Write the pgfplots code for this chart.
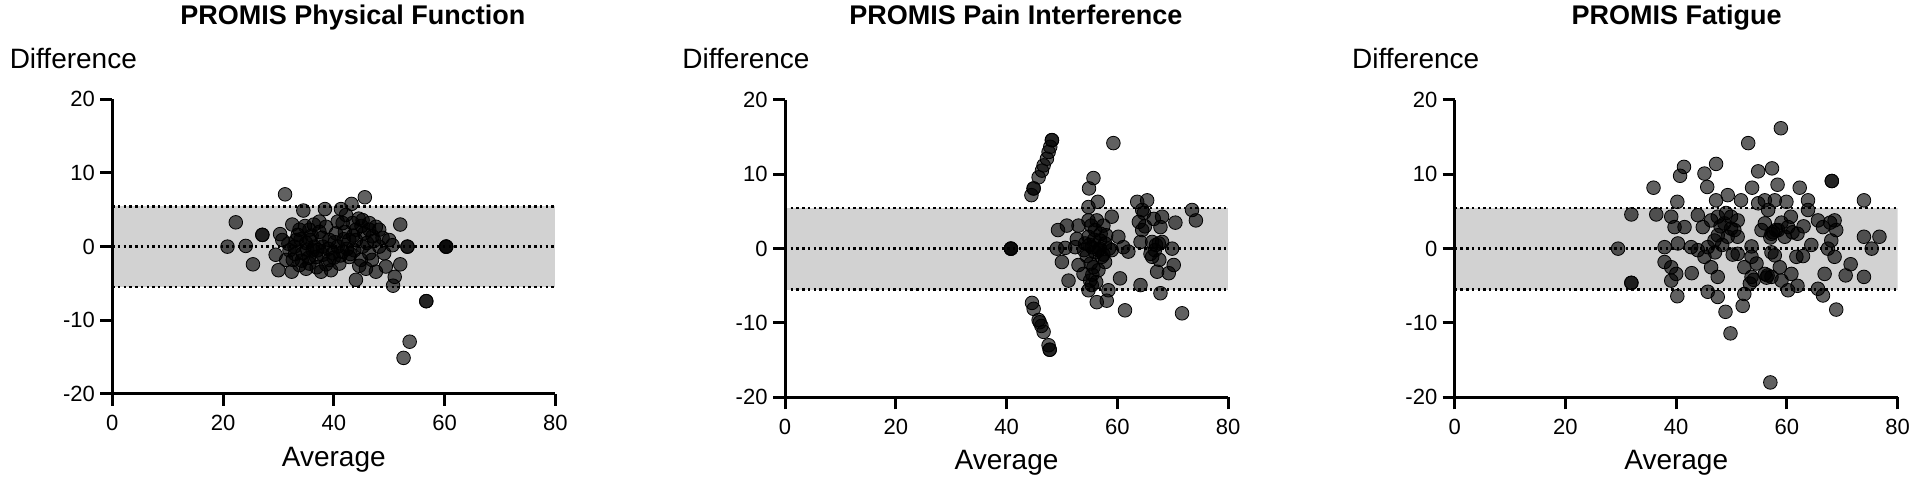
\documentclass[border=0pt]{standalone}
\usepackage{pgfplots}
\pgfplotsset{compat=1.18}
\usepackage{fontspec}
\setmainfont{Liberation Sans}
\definecolor{band}{RGB}{210,210,210}

\pgfplotsset{
  ba/.style={
    scale only axis, width=221.5pt,
    xmin=0, xmax=80, ymin=-20, ymax=20,
    axis lines=left, axis line style={-, line width=1.5pt},
    axis on top,
    xtick={0,20,40,60,80}, ytick={-20,-10,0,10,20},
    tick align=outside, major tick length=6pt,
    tick style={line width=1.5pt, black},
    /pgf/number format/assume math mode=true,
    ticklabel style={font=\fontsize{11}{13}\selectfont},
    yticklabel style={xshift=0.8pt},
    xticklabel style={yshift=-1.2pt},
    every axis title/.style={anchor=base, yshift=37.6pt, font=\fontsize{13.5}{16}\selectfont\bfseries},
    every axis x label/.style={at={(axis description cs:0.5,0)}, anchor=base, yshift=-36.3pt, font=\fontsize{14}{16}\selectfont},
    every axis y label/.style={at={(axis description cs:-0.088,1)}, anchor=base, yshift=15.5pt, font=\fontsize{14}{16}\selectfont},
    xlabel={Average}, ylabel={Difference},
  },
  pts/.style={only marks, mark=*, mark size=3.4pt, mark options={draw=none, fill=black, fill opacity=0.62}},
  dots/.style={black, line width=1.2pt, dash pattern=on 1.2pt off 1.65pt},
}

\newcommand{\bandlines}{%
  \addplot[fill=band, draw=none] coordinates {(0,-5.5) (80,-5.5) (80,5.45) (0,5.45)} -- cycle;
  \addplot[dots] coordinates {(0,5.45) (80,5.45)};
  \addplot[dots] coordinates {(0,0) (80,0)};
  \addplot[dots] coordinates {(0,-5.5) (80,-5.5)};
}

\begin{document}
\begin{tikzpicture}
\useasboundingbox (0,0) rectangle (960pt,242.5pt);

% ---------- Physical Function ----------
\begin{axis}[ba, at={(56.15pt,45.5pt)}, anchor=south west, height=147.35pt,
  title={PROMIS Physical Function}, title style={at={(axis description cs:0.543,1)}}]
\bandlines
\addplot[pts] table {
x y
20.8 0.0
22.3 3.3
24.1 0.1
25.4 -2.4
27.1 1.6
27.1 1.6
29.5 -1.1
30.0 -3.2
30.3 1.7
30.7 0.9
31.2 7.1
31.4 -1.8
31.8 0.4
32.0 -0.5
32.4 -3.4
32.5 3.0
32.6 -1.8
32.9 0.0
33.0 -1.0
33.2 0.9
33.5 1.6
33.8 2.3
33.8 -2.5
34.0 1.0
34.2 -1.9
34.4 -0.9
34.5 4.9
34.8 2.8
35.0 0.5
35.0 -3.0
35.2 -0.4
35.5 -1.5
35.6 2.3
35.6 -2.3
35.7 0.9
36.0 1.5
36.2 -0.5
36.4 3.0
36.5 0.0
36.8 -1.4
36.9 -2.8
37.0 -0.5
37.4 3.4
37.4 2.0
37.7 -3.4
37.9 1.2
38.0 0.0
38.0 -1.1
38.4 5.1
38.6 2.7
38.6 -2.4
39.0 -0.3
39.2 0.9
39.2 -1.8
39.5 -3.2
39.8 -0.9
40.0 -1.5
40.2 0.6
40.4 1.8
40.7 3.4
40.7 0.0
41.0 -2.3
41.2 -1.2
41.3 5.1
41.6 3.2
41.6 -0.7
41.8 1.0
42.0 2.0
42.2 4.3
42.4 -0.3
42.8 0.9
42.8 -1.4
43.0 -1.0
43.2 5.8
43.4 3.2
43.5 1.5
43.7 -0.5
44.0 2.3
44.0 0.9
44.0 -4.5
44.5 3.8
44.6 -2.6
44.9 -1.8
45.0 2.8
45.2 3.6
45.2 0.0
45.5 1.8
45.6 6.7
45.8 -3.0
46.0 0.5
46.4 3.2
46.4 2.3
46.4 -0.9
46.9 -1.8
47.0 1.4
47.3 0.8
47.6 2.7
47.6 -3.4
48.2 2.3
48.2 0.0
48.8 1.2
49.1 -0.9
49.4 -2.7
50.0 0.9
50.6 0.2
50.7 -5.3
51.0 -4.1
52.0 3.0
52.0 -2.4
52.6 -15.1
53.3 0.0
53.3 0.0
53.7 -12.9
56.7 -7.4
56.7 -7.4
60.3 0.0
60.3 0.0
60.3 0.0
};
\end{axis}

% ---------- Pain Interference ----------
\begin{axis}[ba, at={(392.5pt,43.85pt)}, anchor=south west, height=148.65pt,
  title={PROMIS Pain Interference}, title style={at={(axis description cs:0.521,1)}}]
\bandlines
\addplot[pts] table {
x y
44.5 7.2
44.9 8.1
44.9 8.1
45.8 9.6
46.4 10.5
46.7 11.2
47.3 12.1
47.6 13.0
47.9 13.7
48.2 14.6
48.2 14.6
44.6 -7.3
44.9 -8.1
45.8 -9.6
46.0 -9.9
46.3 -10.4
46.7 -11.2
47.6 -13.0
47.8 -13.6
47.8 -13.6
40.8 0.0
40.8 0.0
40.8 0.0
59.3 14.2
55.7 9.5
54.9 8.1
54.8 5.6
56.5 6.3
49.3 2.5
50.9 3.1
49.1 0.0
50.6 0.1
50.0 -1.8
51.2 -4.3
53.0 3.1
54.8 3.8
56.3 3.8
57.5 3.1
59.0 4.3
52.7 1.3
54.2 0.7
55.4 0.2
56.6 -0.2
57.8 0.7
59.0 -0.2
60.2 1.6
61.1 0.2
62.0 -0.4
53.0 -2.2
53.9 -3.4
55.1 -4.3
55.4 -4.9
54.8 -5.6
56.6 -2.9
57.8 -1.8
58.4 -5.6
56.3 -7.2
58.1 -7.0
61.4 -8.3
60.5 -4.0
64.2 -4.9
63.6 6.3
65.4 6.5
64.5 5.2
63.9 3.6
64.5 2.5
64.2 0.9
66.6 4.0
68.1 4.3
70.5 3.5
67.8 2.9
66.3 0.9
67.5 0.7
68.1 0.9
66.0 -0.7
66.3 -1.1
69.9 0.0
70.2 -2.2
69.3 -3.3
67.2 -3.1
67.8 -6.0
71.7 -8.7
73.5 5.2
74.2 3.8
55.3 3.1
56.0 2.5
57.2 -1.1
55.7 -2.5
54.8 1.6
56.9 1.1
52.4 0.2
55.0 0.5
56.0 -0.5
54.5 -1.0
57.0 2.0
55.5 -3.5
58.5 0.0
64.8 4.8
67.0 0.5
55.8 1.2
56.8 0.0
54.0 -0.2
57.5 -0.8
55.2 -2.0
56.2 -4.5
58.0 1.8
66.8 -0.2
67.6 -1.5
65.0 3.0
};
\end{axis}

% ---------- Fatigue ----------
\begin{axis}[ba, at={(727.35pt,43.85pt)}, anchor=south west, height=148.65pt,
  title={PROMIS Fatigue}, title style={at={(axis description cs:0.501,1)}}]
\bandlines
\addplot[pts] table {
x y
58.9 16.2
53.0 14.2
57.0 -18.0
68.1 9.1
68.1 9.1
41.4 11.0
40.7 9.8
47.2 11.4
45.1 10.1
45.6 8.3
54.8 10.4
57.3 10.8
35.9 8.2
53.7 8.2
58.3 8.6
62.3 8.2
73.9 6.5
40.2 6.3
31.9 4.6
36.4 4.6
29.5 0.0
31.9 -4.6
31.9 -4.6
73.9 1.6
76.7 1.6
75.3 0.0
73.9 -3.8
71.5 -2.1
70.6 -3.6
68.9 -8.2
49.8 -11.4
48.9 -8.5
47.5 -6.5
45.7 -5.8
40.2 -6.4
52.0 -7.7
52.3 -6.1
66.5 -6.3
60.2 -5.6
61.9 -5.0
65.6 -5.4
42.8 -3.3
39.1 -2.5
39.1 -4.3
40.0 -3.4
37.9 -1.8
37.9 0.2
39.1 4.3
39.7 2.9
40.3 0.7
42.7 0.2
43.9 -0.2
45.1 -1.1
46.3 -2.5
47.5 -3.8
43.9 4.5
44.8 2.9
46.3 3.8
47.5 4.3
48.7 3.4
49.9 4.3
51.1 3.8
47.2 6.5
49.3 7.2
51.7 6.5
47.5 1.8
49.3 1.6
51.1 1.6
50.2 -0.8
53.6 0.3
53.6 -1.1
52.3 -2.5
53.6 -3.8
53.3 -4.7
54.8 6.1
56.0 6.5
57.8 6.5
59.9 6.3
63.8 6.5
56.0 3.4
57.2 2.0
58.4 2.5
60.2 2.9
61.9 2.0
60.7 4.3
55.4 2.5
56.6 5.2
54.5 -2.0
56.0 -3.4
57.2 -3.8
58.7 -2.5
57.8 -0.9
59.0 -4.3
60.8 -3.4
57.2 -0.5
62.9 -1.0
64.4 0.5
63.8 5.2
65.6 3.8
66.5 2.9
68.6 3.8
68.9 2.5
68.0 1.1
67.4 0.0
68.6 -1.1
66.8 -3.4
49.9 2.7
51.1 -0.7
41.5 2.9
46.9 1.1
45.7 0.2
59.6 1.6
61.7 -1.1
48.0 3.0
57.5 2.2
56.5 -3.6
58.0 2.5
47.0 -0.5
49.0 4.8
50.5 2.5
57.0 1.5
59.0 3.5
61.0 2.2
56.3 -3.9
54.0 -4.2
48.3 0.5
63.0 3.0
67.8 3.5
};
\end{axis}
\end{tikzpicture}
\end{document}
